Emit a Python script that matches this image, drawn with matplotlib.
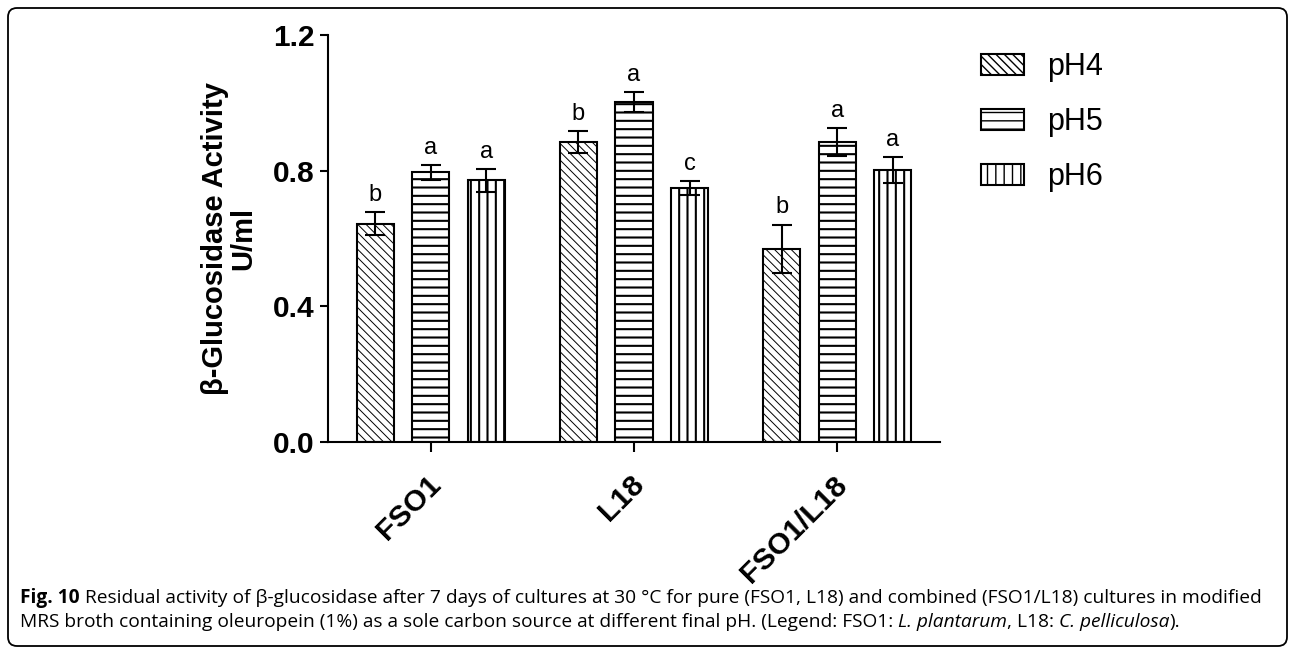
import matplotlib
matplotlib.use('Agg')
import numpy as np
import matplotlib.pyplot as plt
from matplotlib import font_manager
from matplotlib.patches import FancyBboxPatch
from matplotlib.transforms import IdentityTransform, ScaledTranslation

groups = ['FSO1', 'L18', 'FSO1/L18']
series = ['pH4', 'pH5', 'pH6']
activity = {
	'pH4': [0.644, 0.884, 0.570],
	'pH5': [0.795, 1.002, 0.884],
	'pH6': [0.772, 0.749, 0.801],
}
errors = {
	'pH4': [0.034, 0.032, 0.071],
	'pH5': [0.022, 0.030, 0.042],
	'pH6': [0.034, 0.021, 0.038],
}
letters = {
	'pH4': ['b', 'b', 'b'],
	'pH5': ['a', 'a', 'a'],
	'pH6': ['a', 'c', 'a'],
}
yticks = [0.0, 0.4, 0.8, 1.2]
ylabel = 'β-Glucosidase Activity\nU/ml'

caption_line1 = [
	('Fig. 10', 'bold', 'normal'),
	(' Residual activity of β-glucosidase after 7 days of cultures at 30 °C for pure (FSO1, L18) and combined (FSO1/L18) cultures in modified', 'normal', 'normal'),
]
caption_line2 = [
	('MRS broth containing oleuropein (1%) as a sole carbon source at different final pH. (Legend: FSO1: ', 'normal', 'normal'),
	('L. plantarum', 'normal', 'italic'),
	(', L18: ', 'normal', 'normal'),
	('C. pelliculosa', 'normal', 'italic'),
	(').', 'normal', 'normal'),
]

names = {f.name for f in font_manager.fontManager.ttflist}
cap_font = 'Liberation Sans Narrow' if 'Liberation Sans Narrow' in names else 'Open Sans'

plt.rcParams['font.family'] = ['Liberation Sans', 'DejaVu Sans']

W, H = 1293, 651
fig = plt.figure(figsize=(W / 100, H / 100), dpi=100)
ax = fig.add_axes([328 / W, 1 - 442 / H, 612 / W, 407 / H])

x = np.arange(len(groups))
step, width = 0.273, 0.182
hatches = {'pH4': '\\\\\\\\', 'pH5': '--', 'pH6': '||'}
hatch_lw = {'pH4': 0.7, 'pH5': 1.5, 'pH6': 1.5}

for i, s in enumerate(series):
	pos = x + (i - 1) * step
	bars = ax.bar(pos, activity[s], width, facecolor='white', edgecolor='black',
				  linewidth=1.5, hatch=hatches[s], label=s, zorder=2)
	for b in bars:
		if hasattr(b, 'set_hatch_linewidth'):
			b.set_hatch_linewidth(hatch_lw[s])
	ax.errorbar(pos, activity[s], yerr=errors[s], fmt='none', ecolor='black',
				elinewidth=1.5, capsize=7.5, capthick=1.5, zorder=3)
	for p, v, e, t in zip(pos, activity[s], errors[s], letters[s]):
		ax.text(p, v + e + 0.018, t, ha='center', va='bottom', fontsize=17)

ax.set_xlim(-0.505, 2.505)
ax.set_ylim(0, 1.2)
for side in ['top', 'right']:
	ax.spines[side].set_visible(False)
for side in ['left', 'bottom']:
	ax.spines[side].set_linewidth(1.5)

ax.set_yticks(yticks)
ax.set_yticklabels([f'{v:.1f}' for v in yticks], fontsize=21.5, fontweight='bold')
ax.tick_params(axis='y', length=6, width=1.5, pad=3.6)
ax.set_xticks(x)
ax.set_xticklabels(groups, rotation=45, ha='right', va='top', rotation_mode='anchor',
				   fontsize=21.5, fontweight='bold')
ax.tick_params(axis='x', length=7.5, width=1.5, pad=13)
for lab in ax.get_xticklabels():
	lab.set_transform(lab.get_transform() + ScaledTranslation(-0.04, 0, fig.dpi_scale_trans))

ax.set_ylabel(ylabel, fontsize=21, fontweight='bold', linespacing=1.0)
ax.yaxis.set_label_coords(-0.116, 0.5)

leg = ax.legend(loc='upper left', bbox_to_anchor=(981 / W, 1 - 52 / H), bbox_transform=fig.transFigure,
				frameon=False, fontsize=22, borderpad=0, borderaxespad=0,
				handlelength=1.4, handleheight=0.68, handletextpad=0.75, labelspacing=0.82)

# rounded frame round the whole figure
frame = FancyBboxPatch((8, 5), 1279, 638, boxstyle='round,pad=0,rounding_size=9',
					   transform=IdentityTransform(), facecolor='none', edgecolor='black', linewidth=1.3)
fig.patches.append(frame)

# caption, written piece by piece
fig.canvas.draw()
renderer = fig.canvas.get_renderer()

def caption_row(pieces, x0, y0, size):
	probe = fig.text(0, 0, 'x x', fontsize=size, family=cap_font)
	probe2 = fig.text(0, 0, 'xx', fontsize=size, family=cap_font)
	sp = probe.get_window_extent(renderer).width - probe2.get_window_extent(renderer).width
	probe.remove()
	probe2.remove()
	xpos = x0
	for txt, weight, style in pieces:
		xpos += (len(txt) - len(txt.lstrip(' '))) * sp
		t = fig.text(xpos, y0, txt.strip(' '), fontsize=size, family=cap_font, fontweight=weight,
					 fontstyle=style, va='baseline', ha='left', transform=IdentityTransform())
		xpos += t.get_window_extent(renderer).width
		xpos += (len(txt) - len(txt.rstrip(' '))) * sp

caption_row(caption_line1, 20, H - 603, 13.8)
caption_row(caption_line2, 20, H - 627, 13.8)

fig.savefig('out.png', dpi=100)
